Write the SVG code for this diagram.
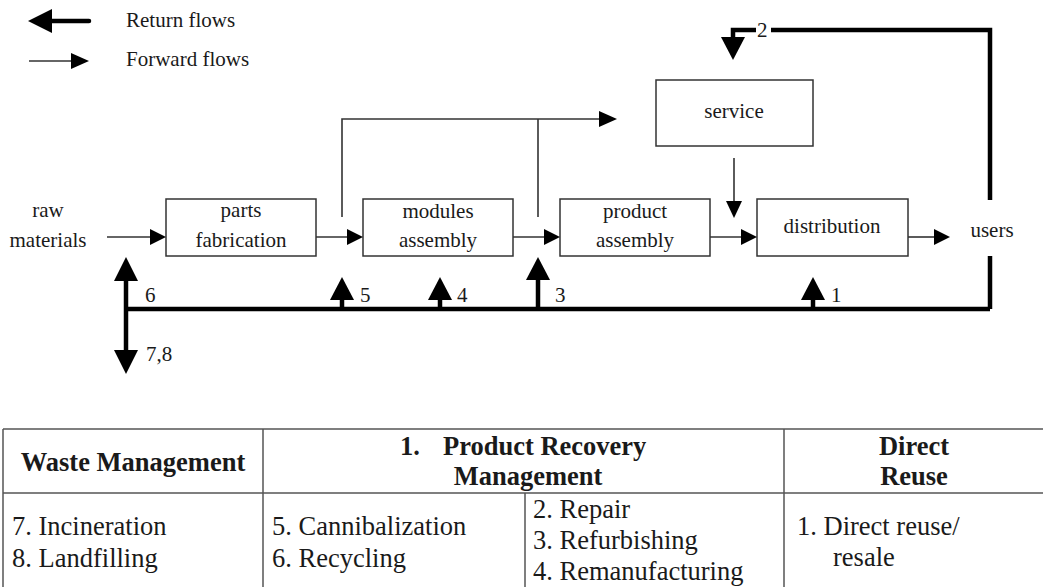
<svg xmlns="http://www.w3.org/2000/svg" width="1043" height="587" viewBox="0 0 1043 587">
<style>
text{fill:#1a1a1a}
.lbl{font-size:21px}
.box{fill:#fff;stroke:#333;stroke-width:1.5}
.fwd{fill:none;stroke:#333;stroke-width:1.6}
.ret{fill:none;stroke:#000;stroke-width:4.5}
.fh{fill:#000}
.rh{fill:#000}
.tbl{stroke:#555;stroke-width:1.5;fill:none}
.th{font-size:26.5px;font-weight:bold}
.tb{font-size:26.5px}
</style>
<rect width="1043" height="587" fill="#fff"/>

<g id="legend">
  <line class="ret" x1="50" y1="21" x2="89" y2="21" stroke-linecap="round"/>
  <polygon class="rh" points="28,21 52,9 52,33"/>
  <text class="lbl" font-family="Liberation Serif" x="126" y="27">Return flows</text>
  <line class="fwd" x1="29" y1="61" x2="73" y2="61"/>
  <polygon class="fh" points="89,61 71,53 71,69"/>
  <text class="lbl" font-family="Liberation Serif" x="126" y="66">Forward flows</text>
</g>

<g id="raw-materials">
  <text class="lbl" font-family="Liberation Serif" text-anchor="middle" x="48" y="217">raw</text>
  <text class="lbl" font-family="Liberation Serif" text-anchor="middle" x="48" y="247">materials</text>
</g>
<g id="parts-fabrication">
  <rect class="box" x="166" y="199" width="150" height="57"/>
  <text class="lbl" font-family="Liberation Serif" text-anchor="middle" x="241" y="217">parts</text>
  <text class="lbl" font-family="Liberation Serif" text-anchor="middle" x="241" y="247">fabrication</text>
</g>
<g id="modules-assembly">
  <rect class="box" x="363" y="199" width="150" height="57"/>
  <text class="lbl" font-family="Liberation Serif" text-anchor="middle" x="438" y="218">modules</text>
  <text class="lbl" font-family="Liberation Serif" text-anchor="middle" x="438" y="247">assembly</text>
</g>
<g id="product-assembly">
  <rect class="box" x="560" y="199" width="150" height="57"/>
  <text class="lbl" font-family="Liberation Serif" text-anchor="middle" x="635" y="218">product</text>
  <text class="lbl" font-family="Liberation Serif" text-anchor="middle" x="635" y="247">assembly</text>
</g>
<g id="distribution">
  <rect class="box" x="757" y="199" width="151" height="57"/>
  <text class="lbl" font-family="Liberation Serif" text-anchor="middle" x="832" y="233">distribution</text>
</g>
<g id="service">
  <rect class="box" x="656" y="80" width="157" height="66"/>
  <text class="lbl" font-family="Liberation Serif" text-anchor="middle" x="734" y="118">service</text>
</g>
<g id="users">
  <text class="lbl" font-family="Liberation Serif" text-anchor="middle" x="992" y="237">users</text>
</g>

<g id="connectors">
  <line class="fwd" x1="107" y1="237" x2="152" y2="237"/>
  <polygon class="fh" points="166,237 150,229 150,245"/>
  <line class="fwd" x1="316" y1="237" x2="349" y2="237"/>
  <polygon class="fh" points="363,237 347,229 347,245"/>
  <line class="fwd" x1="513" y1="237" x2="546" y2="237"/>
  <polygon class="fh" points="560,237 544,229 544,245"/>
  <line class="fwd" x1="710" y1="237" x2="743" y2="237"/>
  <polygon class="fh" points="757,237 741,229 741,245"/>
  <line class="fwd" x1="908" y1="237" x2="936" y2="237"/>
  <polygon class="fh" points="950,237 934,229 934,245"/>
  <line class="fwd" x1="734" y1="158" x2="734" y2="204"/>
  <polygon class="fh" points="734,218 726,201 742,201"/>
  <polyline class="fwd" points="342,217 342,119 602,119"/>
  <line class="fwd" x1="538" y1="217" x2="538" y2="119"/>
  <polygon class="fh" points="617,119 599,111 599,127"/>

  <line class="ret" x1="126" y1="309" x2="990" y2="309"/>
  <polyline class="ret" points="990,256 990,309"/>
  <polyline class="ret" points="990,200 990,30 771,30"/>
  <polyline class="ret" points="756,30 733,30 733,40"/>
  <polygon class="rh" points="733,60 721,37 745,37"/>
  <line class="ret" x1="126" y1="279" x2="126" y2="352"/>
  <polygon class="rh" points="126,257 114,281 138,281"/>
  <polygon class="rh" points="126,374 114,350 138,350"/>
  <line class="ret" x1="342" y1="298" x2="342" y2="309"/>
  <polygon class="rh" points="342,277 330,300 354,300"/>
  <line class="ret" x1="440" y1="298" x2="440" y2="309"/>
  <polygon class="rh" points="440,277 428,300 452,300"/>
  <line class="ret" x1="538" y1="278" x2="538" y2="309"/>
  <polygon class="rh" points="538,257 526,280 550,280"/>
  <line class="ret" x1="813" y1="298" x2="813" y2="309"/>
  <polygon class="rh" points="813,277 801,300 825,300"/>

  <text class="lbl" font-family="Liberation Serif" x="145" y="302">6</text>
  <text class="lbl" font-family="Liberation Serif" x="146" y="361">7,8</text>
  <text class="lbl" font-family="Liberation Serif" x="360" y="302">5</text>
  <text class="lbl" font-family="Liberation Serif" x="457" y="302">4</text>
  <text class="lbl" font-family="Liberation Serif" x="555" y="302">3</text>
  <text class="lbl" font-family="Liberation Serif" x="831" y="302">1</text>
  <text class="lbl" font-family="Liberation Serif" x="757" y="37">2</text>
</g>

<g id="table">
  <line class="tbl" x1="3" y1="429" x2="1043" y2="429"/>
  <line class="tbl" x1="3" y1="493" x2="1043" y2="493"/>
  <line class="tbl" x1="3" y1="429" x2="3" y2="587"/>
  <line class="tbl" x1="263" y1="429" x2="263" y2="587"/>
  <line class="tbl" x1="784" y1="429" x2="784" y2="587"/>
  <line class="tbl" x1="525" y1="493" x2="525" y2="587"/>

  <text class="th" font-family="Liberation Serif" text-anchor="middle" x="133" y="471">Waste Management</text>
  <text class="th" font-family="Liberation Serif" x="400" y="455">1.</text>
  <text class="th" font-family="Liberation Serif" x="443" y="455">Product Recovery</text>
  <text class="th" font-family="Liberation Serif" text-anchor="middle" x="528" y="485">Management</text>
  <text class="th" font-family="Liberation Serif" text-anchor="middle" x="914" y="455">Direct</text>
  <text class="th" font-family="Liberation Serif" text-anchor="middle" x="914" y="485">Reuse</text>

  <text class="tb" font-family="Liberation Serif" x="12" y="535">7. Incineration</text>
  <text class="tb" font-family="Liberation Serif" x="12" y="567">8. Landfilling</text>
  <text class="tb" font-family="Liberation Serif" x="272" y="535">5. Cannibalization</text>
  <text class="tb" font-family="Liberation Serif" x="272" y="567">6. Recycling</text>
  <text class="tb" font-family="Liberation Serif" x="533" y="518">2. Repair</text>
  <text class="tb" font-family="Liberation Serif" x="533" y="549">3. Refurbishing</text>
  <text class="tb" font-family="Liberation Serif" x="533" y="580">4. Remanufacturing</text>
  <text class="tb" font-family="Liberation Serif" x="797" y="535">1. Direct reuse/</text>
  <text class="tb" font-family="Liberation Serif" x="833" y="566">resale</text>
</g>
</svg>
